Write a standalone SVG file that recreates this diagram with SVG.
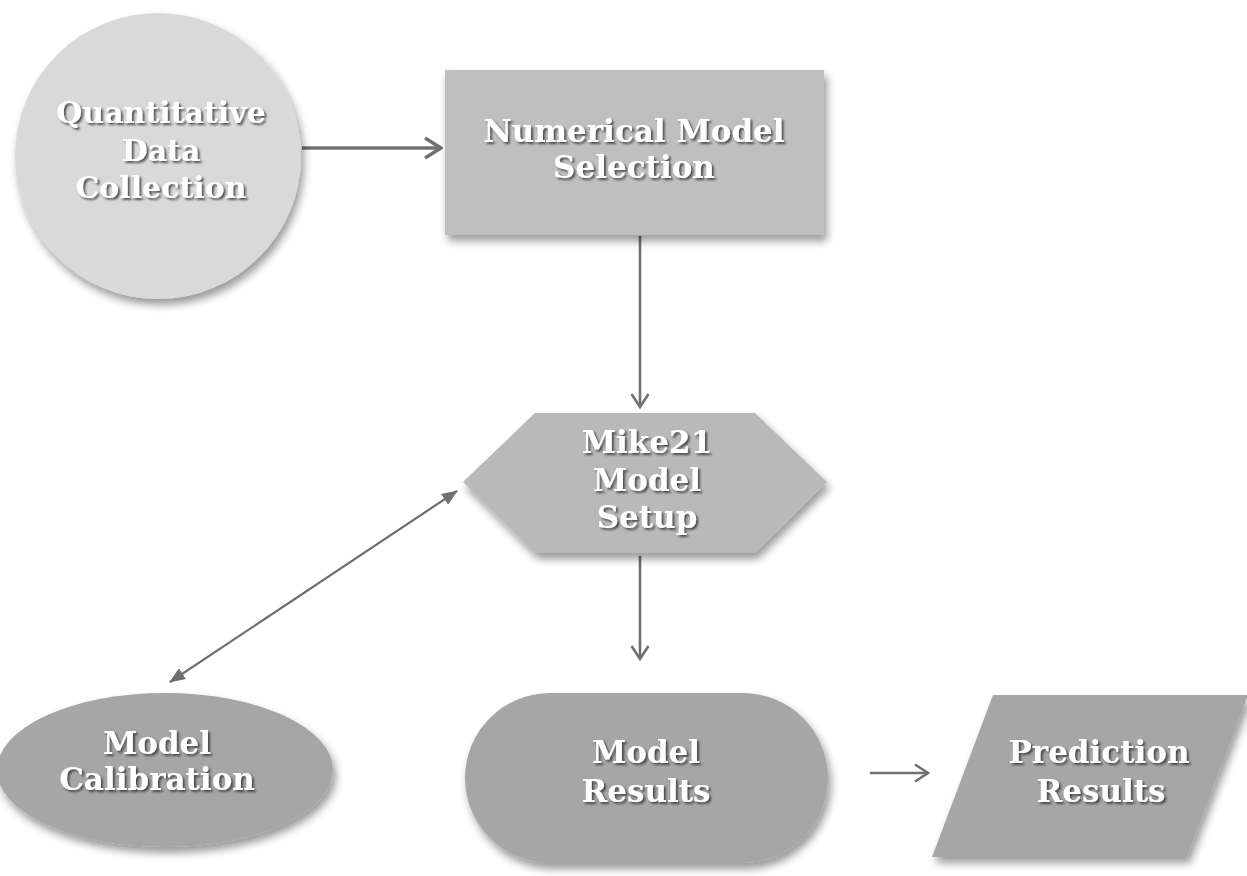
<svg xmlns="http://www.w3.org/2000/svg" width="1247" height="876" viewBox="0 0 1247 876">
<defs>
<filter id="sh" x="-20%" y="-20%" width="140%" height="150%">
<feDropShadow dx="3" dy="6" stdDeviation="4" flood-color="#000" flood-opacity="0.4"/>
</filter>
<filter id="tsh" x="-10%" y="-30%" width="120%" height="160%">
<feDropShadow dx="2" dy="2" stdDeviation="1" flood-color="#333" flood-opacity="0.8"/>
</filter>
<marker id="chev" viewBox="0 0 16 20" refX="14.5" refY="10" markerWidth="16" markerHeight="20" orient="auto" markerUnits="userSpaceOnUse">
<path d="M1.5,1.5 L14.5,10 L1.5,18.5" fill="none" stroke="#707070" stroke-width="2.6"/>
</marker>
<marker id="chevb" viewBox="0 0 20 24" refX="18" refY="12" markerWidth="20" markerHeight="24" orient="auto" markerUnits="userSpaceOnUse">
<path d="M2,2 L18,12 L2,22" fill="none" stroke="#707070" stroke-width="3.5"/>
</marker>
<marker id="tri" viewBox="0 0 16 13" refX="15" refY="6.5" markerWidth="16" markerHeight="13" orient="auto-start-reverse" markerUnits="userSpaceOnUse">
<path d="M0,0 L16,6.5 L0,13 Z" fill="#707070"/>
</marker>
</defs>
<style>
.t{font-family:"DejaVu Serif","Liberation Serif",serif;font-weight:bold;font-size:31px;fill:#fff;text-anchor:middle;filter:url(#tsh)}
.s{font-size:30px}
.c{stroke:#707070;fill:none}
</style>
<rect width="1247" height="876" fill="#fff"/>
<g id="connectors">
<line class="c" x1="302" y1="148" x2="441" y2="148" stroke-width="3.5" marker-end="url(#chevb)"/>
<line class="c" x1="640" y1="236" x2="640" y2="407" stroke-width="2.6" marker-end="url(#chev)"/>
<line class="c" x1="640" y1="556" x2="640" y2="659" stroke-width="2.6" marker-end="url(#chev)"/>
<line class="c" x1="457" y1="491" x2="170" y2="682" stroke-width="2.2" marker-start="url(#tri)" marker-end="url(#tri)"/>
<line class="c" x1="870" y1="773" x2="928" y2="773" stroke-width="2.6" marker-end="url(#chev)"/>
</g>
<g id="n1">
<circle cx="158" cy="156" r="143" fill="#d9d9d9" filter="url(#sh)"/>
<text class="t s" x="161" y="123">Quantitative</text>
<text class="t s" x="161" y="161">Data</text>
<text class="t s" x="161" y="198">Collection</text>
</g>
<g id="n2">
<rect x="445" y="70" width="379" height="165" fill="#bfbfbf" filter="url(#sh)"/>
<text class="t" x="634" y="142">Numerical Model</text>
<text class="t" x="634" y="178">Selection</text>
</g>
<g id="n3">
<polygon points="535,413 755,413 827,482 755,553 535,553 463,482" fill="#b9b9b9" filter="url(#sh)"/>
<text class="t" x="647" y="453">Mike21</text>
<text class="t" x="647" y="491">Model</text>
<text class="t" x="647" y="528">Setup</text>
</g>
<g id="n4">
<ellipse cx="165" cy="770" rx="168" ry="77" fill="#a6a6a6" filter="url(#sh)"/>
<text class="t" x="157" y="754">Model</text>
<text class="t" x="157" y="790">Calibration</text>
</g>
<g id="n5">
<rect x="465" y="693" width="363" height="170" rx="85" ry="85" fill="#a6a6a6" filter="url(#sh)"/>
<text class="t" x="646" y="763">Model</text>
<text class="t" x="646" y="802">Results</text>
</g>
<g id="n6">
<polygon points="993,695 1248,695 1187,857 932,857" fill="#a6a6a6" filter="url(#sh)"/>
<text class="t" x="1099" y="763">Prediction</text>
<text class="t" x="1101" y="802">Results</text>
</g>
</svg>
